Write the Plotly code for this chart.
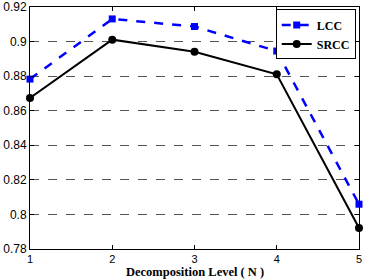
import plotly.graph_objects as go

levels = [1, 2, 3, 4, 5]
lcc = [0.8783, 0.9131, 0.9087, 0.8945, 0.8059]
srcc = [0.8674, 0.9011, 0.8941, 0.8811, 0.7922]
y_ticks = [0.78, 0.8, 0.82, 0.84, 0.86, 0.88, 0.9, 0.92]
y_labels = ["0.78", "0.8", "0.82", "0.84", "0.86", "0.88", "0.9", "0.92"]
x_title = "Decomposition Level ( N )"

fig = go.Figure()
fig.add_trace(go.Scatter(
    x=levels, y=lcc, name="LCC", mode="lines+markers",
    line=dict(color="#0000ff", width=2.5, dash="dash"),
    marker=dict(symbol="square", size=7, color="#0000ff"),
    cliponaxis=False,
))
fig.add_trace(go.Scatter(
    x=levels, y=srcc, name="SRCC", mode="lines+markers",
    line=dict(color="#000000", width=2),
    marker=dict(symbol="circle", size=8, color="#000000"),
    cliponaxis=False,
))

fig.add_annotation(
    text="<b>" + x_title + "</b>", xref="paper", yref="paper",
    x=0.5, y=-31 / 242, xanchor="center", yanchor="bottom", showarrow=False,
    borderpad=0,
    font=dict(family="Liberation Serif", size=12.5, color="black"),
)

fig.update_layout(
    width=366, height=280,
    margin=dict(l=30, r=7, t=7, b=31),
    plot_bgcolor="white", paper_bgcolor="white",
    font=dict(family="Liberation Sans", size=12, color="black"),
    showlegend=True,
    legend=dict(
        x=0.99, y=0.99, xanchor="right", yanchor="top",
        bgcolor="white", bordercolor="black", borderwidth=1,
        font=dict(family="Liberation Serif", size=12, color="black", weight="bold"),
        tracegroupgap=0, itemwidth=30,
    ),
    xaxis=dict(
        range=[1, 5], tickvals=levels, ticktext=[str(v) for v in levels],
        tickfont=dict(size=11),
        showgrid=False, zeroline=False, automargin=False,
        showline=True, linecolor="black", linewidth=1, mirror="ticks",
        ticks="inside", ticklen=4, tickcolor="black",
    ),
    yaxis=dict(
        range=[0.78, 0.92], tickvals=y_ticks, ticktext=y_labels,
        showgrid=True, gridcolor="#555555", griddash="dash", gridwidth=1,
        zeroline=False, automargin=False,
        showline=True, linecolor="black", linewidth=1, mirror="ticks",
        ticks="inside", ticklen=4, tickcolor="black",
    ),
)

fig.write_html("out.html")
